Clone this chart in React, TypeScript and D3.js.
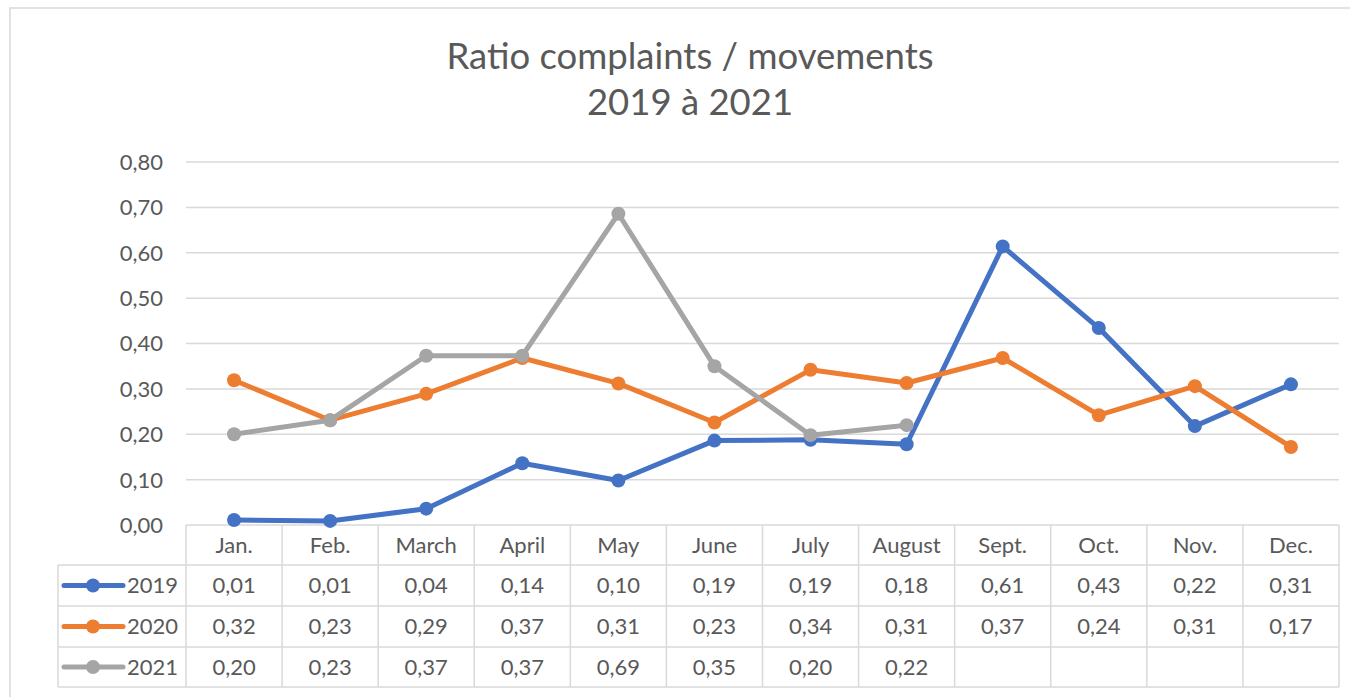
import React from "react";
import * as d3 from "d3";

const months = ["Jan.", "Feb.", "March", "April", "May", "June", "July", "August", "Sept.", "Oct.", "Nov.", "Dec."];
const values2019 = [0.011, 0.009, 0.036, 0.136, 0.098, 0.186, 0.188, 0.178, 0.614, 0.434, 0.218, 0.31];
const values2020 = [0.319, 0.231, 0.289, 0.368, 0.312, 0.226, 0.342, 0.313, 0.368, 0.242, 0.306, 0.172];
const values2021 = [0.2, 0.231, 0.373, 0.373, 0.686, 0.35, 0.198, 0.22];
const seriesNames = ["2019", "2020", "2021"];
const seriesColors = ["#4472C4", "#ED7D31", "#A5A5A5"];
const yTicks = [0, 0.1, 0.2, 0.3, 0.4, 0.5, 0.6, 0.7, 0.8];
const titleLines = ["Ratio complaints / movements", "2019 à 2021"];

const W = 1350;
const H = 697;
const FONT = "Lato, 'Open Sans', sans-serif";
const TEXT = "#595959";
const GRID = "#D9D9D9";

const locale = d3.formatLocale({ decimal: ",", thousands: " ", grouping: [3], currency: ["", "€"] });
const fmt = locale.format(".2f");

export default function App() {
  const plotLeft = 186;
  const plotRight = 1339;
  const plotTop = 162;
  const plotBottom = 525;
  const rowEdges = [525, 565, 606, 647, 687];
  const legendLeft = 58;

  const x = d3.scaleBand<string>().domain(months).range([plotLeft, plotRight]);
  const y = d3.scaleLinear().domain([0, 0.8]).range([plotBottom, plotTop]);
  const cx = (m: string) => (x(m) as number) + x.bandwidth() / 2;

  const series = [values2019, values2020, values2021];
  const line = d3
    .line<number>()
    .x((_, i) => cx(months[i]))
    .y((d) => y(d));

  const fontSize = 22;
  const lw = 5;
  const r = 7;

  return (
    <svg
      width={W}
      height={H}
      style={{ position: "absolute", left: 0, top: 0, background: "#fff" }}
      fontFamily={FONT}
    >
      <rect x={0} y={0} width={W} height={H} fill="#fff" />
      <rect x={10} y={8} width={1420} height={760} fill="none" stroke={GRID} strokeWidth={1.5} />

      {/* title */}
      <text x={690} y={69} textAnchor="middle" fontSize={36.5} fill={TEXT}>
        {titleLines[0]}
      </text>
      <text x={690} y={115} textAnchor="middle" fontSize={36.5} fill={TEXT}>
        {titleLines[1]}
      </text>

      {/* gridlines and y labels */}
      {yTicks.map((t) => (
        <g key={t}>
          {t > 0 && (
            <line x1={plotLeft} x2={plotRight} y1={y(t)} y2={y(t)} stroke={GRID} strokeWidth={1.5} />
          )}
          <text x={163} y={y(t)} dy="0.36em" textAnchor="end" fontSize={fontSize} fill={TEXT}>
            {fmt(t)}
          </text>
        </g>
      ))}

      {/* data table */}
      <g stroke={GRID} strokeWidth={1.5} fill="none">
        {rowEdges.map((ry, i) => (
          <line key={"h" + i} x1={i === 0 || i === 1 ? plotLeft : legendLeft} x2={plotRight} y1={ry} y2={ry} />
        ))}
        <line x1={legendLeft} x2={plotLeft} y1={rowEdges[1]} y2={rowEdges[1]} />
        {months.map((m) => (
          <line key={"v" + m} x1={x(m)} x2={x(m)} y1={rowEdges[0]} y2={rowEdges[4]} />
        ))}
        <line x1={plotRight} x2={plotRight} y1={rowEdges[0]} y2={rowEdges[4]} />
        <line x1={legendLeft} x2={legendLeft} y1={rowEdges[1]} y2={rowEdges[4]} />
      </g>

      {/* month headers */}
      {months.map((m) => (
        <text
          key={"m" + m}
          x={cx(m)}
          y={(rowEdges[0] + rowEdges[1]) / 2}
          dy="0.36em"
          textAnchor="middle"
          fontSize={fontSize}
          fill={TEXT}
        >
          {m}
        </text>
      ))}

      {/* table rows */}
      {series.map((vals, si) => {
        const cy = (rowEdges[si + 1] + rowEdges[si + 2]) / 2;
        return (
          <g key={"row" + si}>
            <line x1={64} x2={123} y1={cy} y2={cy} stroke={seriesColors[si]} strokeWidth={lw} strokeLinecap="round" />
            <circle cx={93} cy={cy} r={r} fill={seriesColors[si]} />
            <text x={127} y={cy} dy="0.36em" fontSize={fontSize} fill={TEXT}>
              {seriesNames[si]}
            </text>
            {vals.map((v, i) => (
              <text
                key={i}
                x={cx(months[i])}
                y={cy}
                dy="0.36em"
                textAnchor="middle"
                fontSize={fontSize}
                fill={TEXT}
              >
                {fmt(v)}
              </text>
            ))}
          </g>
        );
      })}

      {/* series lines */}
      {series.map((vals, si) => (
        <g key={"s" + si}>
          <path
            d={line(vals) || ""}
            fill="none"
            stroke={seriesColors[si]}
            strokeWidth={lw}
            strokeLinejoin="round"
            strokeLinecap="round"
          />
          {vals.map((v, i) => (
            <circle key={i} cx={cx(months[i])} cy={y(v)} r={r} fill={seriesColors[si]} />
          ))}
        </g>
      ))}
    </svg>
  );
}
